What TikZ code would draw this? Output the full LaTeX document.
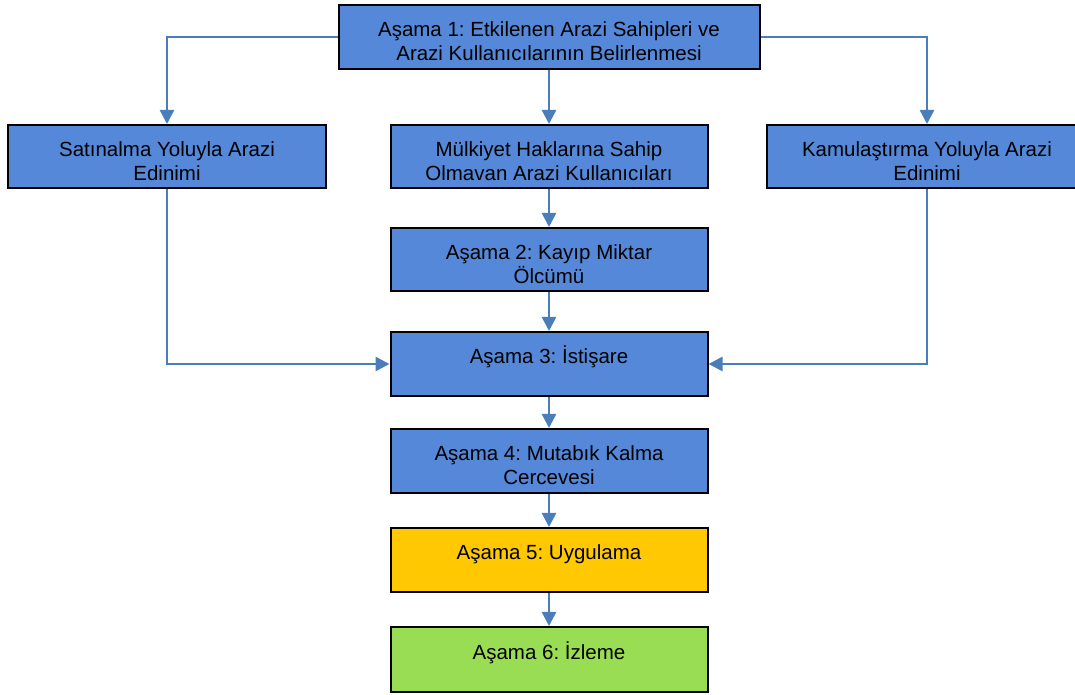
\documentclass[tikz,border=0pt]{standalone}
\usepackage{fontspec}
\setmainfont{Liberation Sans}
\usetikzlibrary{shapes,arrows.meta,positioning}

\definecolor{stageblue}{HTML}{5588D8}
\definecolor{stageyellow}{HTML}{FFC800}
\definecolor{stagegreen}{HTML}{99DD55}
\definecolor{flowblue}{HTML}{4A7EBB}
\newcommand{\stagetop}{\rule{0pt}{30pt}}
\newcommand{\stagebot}{\rule[-6pt]{0pt}{6pt}}

\begin{document}
\frenchspacing
\begin{tikzpicture}[x=1pt,y=1pt,
  stage/.style={draw=black, line width=2pt, fill=stageblue, align=center,
    minimum width=317pt, minimum height=63pt, inner sep=0pt,
    font=\fontsize{20.5}{24}\selectfont},
  flow/.style={draw=flowblue, line width=2.5pt,
    -{Triangle[length=14pt,width=14pt]}}]
\useasboundingbox (0,0) rectangle (1075,695);

% Draw stages
\node[stage, minimum width=421pt, minimum height=64pt] (s1) at (549,658)
  {\stagetop Aşama 1: Etkilenen Arazi Sahipleri ve\\Arazi Kullanıcılarının Belirlenmesi\stagebot};
\node[stage, minimum width=318pt] (buy) at (167,538.5)
  {\stagetop Satınalma Yoluyla Arazi\\Edinimi\stagebot};
\node[stage] (users) at (549,538.5)
  {\stagetop Mülkiyet Haklarına Sahip\\Olmavan Arazi Kullanıcıları\stagebot};
\node[stage, minimum width=320pt] (exp) at (927,538.5)
  {\stagetop Kamulaştırma Yoluyla Arazi\\Edinimi\stagebot};
\node[stage] (s2) at (549,435.5)
  {\stagetop Aşama 2: Kayıp Miktar\\Ölcümü\stagebot};
\node[stage, minimum height=64pt] (s3) at (549,331)
  {\stagetop Aşama 3: İstişare\\\stagebot};
\node[stage, minimum height=64pt] (s4) at (549,234)
  {\stagetop Aşama 4: Mutabık Kalma\\Cercevesi\stagebot};
\node[stage, minimum height=64pt, fill=stageyellow] (s5) at (549,135)
  {\stagetop Aşama 5: Uygulama\\\stagebot};
\node[stage, minimum height=65pt, fill=stagegreen] (s6) at (549,35.5)
  {\stagetop Aşama 6: İzleme\\\stagebot};

% Draw arrows from stage 1
\draw[flow] (s1.west) -| (buy.north);
\draw[flow] (s1.south) -- (users.north);
\draw[flow] (s1.east) -| (exp.north);

% Draw arrows into stage 3
\draw[flow] (users) -- (s2);
\draw[flow] (s2) -- (s3);
\draw[flow] (buy.south) |- (s3.west);
\draw[flow] (exp.south) |- (s3.east);

% Draw arrows down to monitoring
\draw[flow] (s3) -- (s4);
\draw[flow] (s4) -- (s5);
\draw[flow] (s5) -- (s6);
\end{tikzpicture}
\end{document}
